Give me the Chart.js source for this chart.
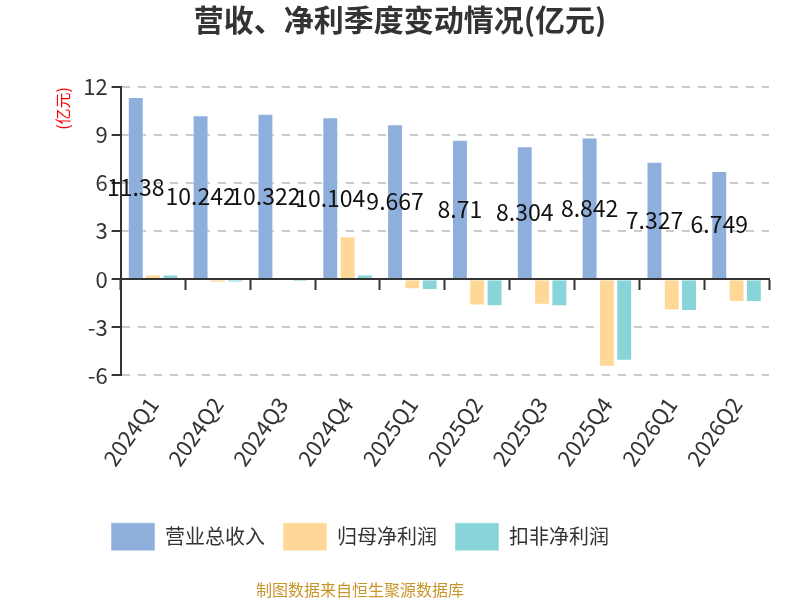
<!DOCTYPE html>
<html>
<head>
<meta charset="utf-8">
<script src="https://cdn.jsdelivr.net/npm/chart.js@4/dist/chart.umd.min.js"></script>
<style>
  html, body { margin: 0; padding: 0; background: #fff; }
  #wrap { width: 800px; height: 600px; }
</style>
</head>
<body>
<div id="wrap"><canvas id="finChart"></canvas></div>
<script>
// quarter labels and values (亿元)
const quarters = ['2024Q1', '2024Q2', '2024Q3', '2024Q4', '2025Q1', '2025Q2', '2025Q3', '2025Q4', '2026Q1', '2026Q2'];
const revenue = [11.38, 10.242, 10.322, 10.104, 9.667, 8.71, 8.304, 8.842, 7.327, 6.749];
const netProfit = [0.3, -0.23, -0.03, 2.68, -0.63, -1.64, -1.6, -5.46, -1.96, -1.43];
const deductedProfit = [0.3, -0.2, -0.15, 0.3, -0.68, -1.69, -1.69, -5.1, -1.98, -1.43];
const yTicks = [-6, -3, 0, 3, 6, 9, 12];

const FONT = '"Noto Sans CJK SC", "Noto Sans", sans-serif';
const SOURCE_TEXT = '制图数据来自恒生聚源数据库';

// value labels in the middle of the revenue bars
const barLabels = {
    id: 'barLabels',
    afterDatasetsDraw(chart) {
        const ctx = chart.ctx;
        const meta = chart.getDatasetMeta(0);
        ctx.save();
        ctx.font = '23px ' + FONT;
        ctx.fillStyle = '#111';
        ctx.textAlign = 'center';
        ctx.textBaseline = 'middle';
        meta.data.forEach(function(bar, i) {
            ctx.fillText(String(revenue[i]), bar.x, (bar.y + bar.base) / 2);
        });
        ctx.restore();
    }
};

// title centred on the canvas, legend and source line centred a bit to the left
const boxCentres = {
    id: 'boxCentres',
    afterLayout(chart) {
        chart.boxes.forEach(function(box) {
            let centre = null;
            if (box === chart.titleBlock) centre = 400;
            else if (box === chart.legend) centre = 360;
            else if (box.options && box.options.text === SOURCE_TEXT) centre = 360;
            if (centre !== null) {
                const half = Math.min(centre, 800 - centre);
                box.left = centre - half;
                box.right = centre + half;
                box.width = half * 2;
            }
        });
    }
};

function loadChart() {
    const ctx = document.getElementById('finChart').getContext('2d');
    new Chart(ctx, {
        type: 'bar',
        data: {
            labels: quarters,
            datasets: [{
                label: '营业总收入',
                data: revenue,
                backgroundColor: '#8eaedb',
                borderColor: 'rgba(255,255,255,0.5)',
                borderWidth: 1
            }, {
                label: '归母净利润',
                data: netProfit,
                backgroundColor: '#ffd898',
                borderColor: 'rgba(255,255,255,0.5)',
                borderWidth: 1
            }, {
                label: '扣非净利润',
                data: deductedProfit,
                backgroundColor: '#88d5d9',
                borderColor: 'rgba(255,255,255,0.5)',
                borderWidth: 1
            }]
        },
        options: {
            responsive: true,
            maintainAspectRatio: false,
            animation: false,
            devicePixelRatio: 1,
            layout: { padding: { left: 53, right: 31, top: 0, bottom: 0 } },
            datasets: { bar: { categoryPercentage: 0.8, barPercentage: 0.92 } },
            scales: {
                x: {
                    grid: { display: false },
                    border: { display: false },
                    ticks: {
                        font: { family: FONT, size: 22 },
                        color: '#333',
                        minRotation: 55,
                        maxRotation: 55,
                        padding: 9
                    },
                    afterFit(scale) {
                        scale.height += 25;
                    }
                },
                x2: {
                    type: 'category',
                    labels: quarters,
                    position: { y: 0 },
                    ticks: { display: false },
                    grid: {
                        drawOnChartArea: false,
                        drawTicks: true,
                        tickLength: 10,
                        tickWidth: 2,
                        tickColor: '#333',
                        offset: true
                    },
                    border: { color: '#333', width: 2, z: 2 }
                },
                y: {
                    min: -6,
                    max: 12,
                    afterBuildTicks(axis) {
                        axis.ticks = yTicks.map(function(v) { return { value: v }; });
                    },
                    ticks: {
                        font: { family: FONT, size: 22 },
                        color: '#333',
                        padding: 4
                    },
                    grid: {
                        color: '#cccccc',
                        lineWidth: 2,
                        tickLength: 9,
                        tickColor: '#333',
                        tickWidth: 2,
                        tickBorderDash: []
                    },
                    border: { color: '#333', width: 2, dash: [8, 8] },
                    title: {
                        display: true,
                        text: '(亿元)',
                        color: '#ff0000',
                        align: 'end',
                        font: { family: FONT, size: 16 },
                        padding: { top: 0, bottom: 7 }
                    }
                }
            },
            plugins: {
                title: {
                    display: true,
                    text: '营收、净利季度变动情况(亿元)',
                    color: '#333',
                    font: { family: FONT, size: 30, weight: 'bold' },
                    padding: { top: 2, bottom: 49 }
                },
                subtitle: {
                    display: true,
                    position: 'bottom',
                    text: SOURCE_TEXT,
                    color: '#c9962b',
                    font: { family: FONT, size: 16 },
                    padding: { top: 20, bottom: 0 }
                },
                legend: {
                    position: 'bottom',
                    labels: {
                        font: { family: FONT, size: 20 },
                        color: '#333',
                        boxWidth: 44,
                        boxHeight: 28,
                        useBorderRadius: true,
                        padding: 18
                    }
                },
                tooltip: { enabled: false }
            }
        },
        plugins: [barLabels, boxCentres]
    });
}

window.onload = function() {
    if (document.getElementById('finChart')) {
        loadChart();
    }
};
</script>
</body>
</html>
